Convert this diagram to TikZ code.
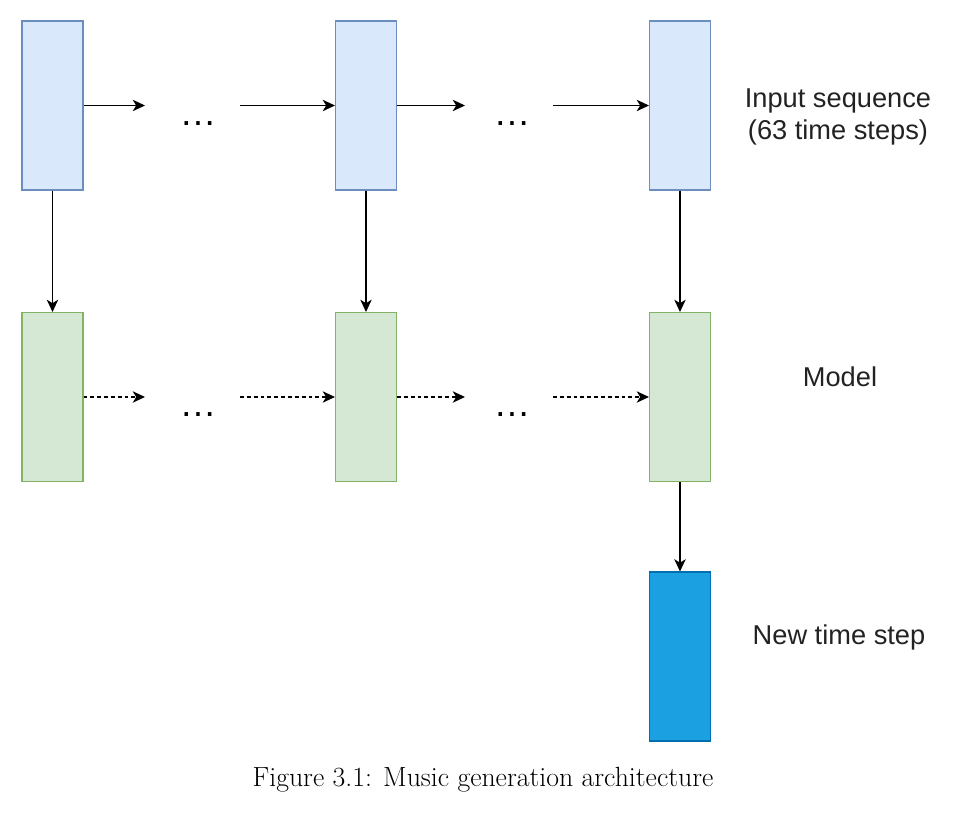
\documentclass[tikz,border=0pt]{standalone}
\usepackage{fontspec}
\setmainfont{Latin Modern Roman}
\newfontfamily\arialfont{Liberation Sans}
\usetikzlibrary{arrows.meta}
\definecolor{inFill}{HTML}{DAE8FC}
\definecolor{inDraw}{HTML}{6C8EBF}
\definecolor{mdFill}{HTML}{D5E8D4}
\definecolor{mdDraw}{HTML}{82B366}
\definecolor{outFill}{HTML}{1BA1E2}
\definecolor{outDraw}{HTML}{006EAF}
\definecolor{lblText}{HTML}{222222}
\begin{document}
\begin{tikzpicture}[x=0.02cm,y=-0.02cm,
  cellbox/.style={rectangle, inner sep=0pt, minimum width=1.22cm, minimum height=3.38cm, line width=0.6pt},
  inbox/.style={cellbox, draw=inDraw, fill=inFill},
  mdbox/.style={cellbox, draw=mdDraw, fill=mdFill},
  outbox/.style={cellbox, draw=outDraw, fill=outFill},
  conn/.style={line width=0.65pt, -{Stealth[length=7pt,width=6.5pt,inset=2pt]}},
  dconn/.style={conn, dash pattern=on 2.2pt off 1.7pt},
  dotsnode/.style={font=\arialfont\fontsize{21}{25}\selectfont, text=black, anchor=base, inner sep=0pt},
  lbl/.style={font=\arialfont\fontsize{15.5}{18.5}\selectfont, text=lblText, align=center}
]
\useasboundingbox (0,0) rectangle (961,814);
% boxes
\node[inbox] (i1) at (52.5,105.5) {};
\node[inbox] (i2) at (366,105.5) {};
\node[inbox] (i3) at (680,105.5) {};
\node[mdbox] (m1) at (52.5,397) {};
\node[mdbox] (m2) at (366,397) {};
\node[mdbox] (m3) at (680,397) {};
\node[outbox] (o3) at (680,656.5) {};
% dots
\node[dotsnode] (d1) at (198,126) {…};
\node[dotsnode] (d2) at (512,126) {…};
\node[dotsnode] (d3) at (198,417) {…};
\node[dotsnode] (d4) at (512,417) {…};
% free ends
\coordinate (a1) at (145,105.5);
\coordinate (a2) at (240,105.5);
\coordinate (a3) at (465,105.5);
\coordinate (a4) at (553,105.5);
\coordinate (b1) at (145,397);
\coordinate (b2) at (240,397);
\coordinate (b3) at (465,397);
\coordinate (b4) at (553,397);
% arrows
\draw[conn] (i1.east) -- (a1);
\draw[conn] (a2) -- (i2.west);
\draw[conn] (i2.east) -- (a3);
\draw[conn] (a4) -- (i3.west);
\draw[dconn] (m1.east) -- (b1);
\draw[dconn] (b2) -- (m2.west);
\draw[dconn] (m2.east) -- (b3);
\draw[dconn] (b4) -- (m3.west);
\draw[conn] (i1.south) -- (m1.north);
\draw[conn] (i2.south) -- (m2.north);
\draw[conn] (i3.south) -- (m3.north);
\draw[conn] (m3.south) -- (o3.north);
% labels
\node[lbl] (l1) at (838,117) {Input sequence\\(63 time steps)};
\node[lbl] (l2) at (840,377) {Model};
\node[lbl] (l3) at (839,637) {New time step};
\node[font=\fontsize{15.8}{19}\selectfont] (cap) at (483,780) {Figure 3.1: Music generation architecture};
\end{tikzpicture}
\end{document}
